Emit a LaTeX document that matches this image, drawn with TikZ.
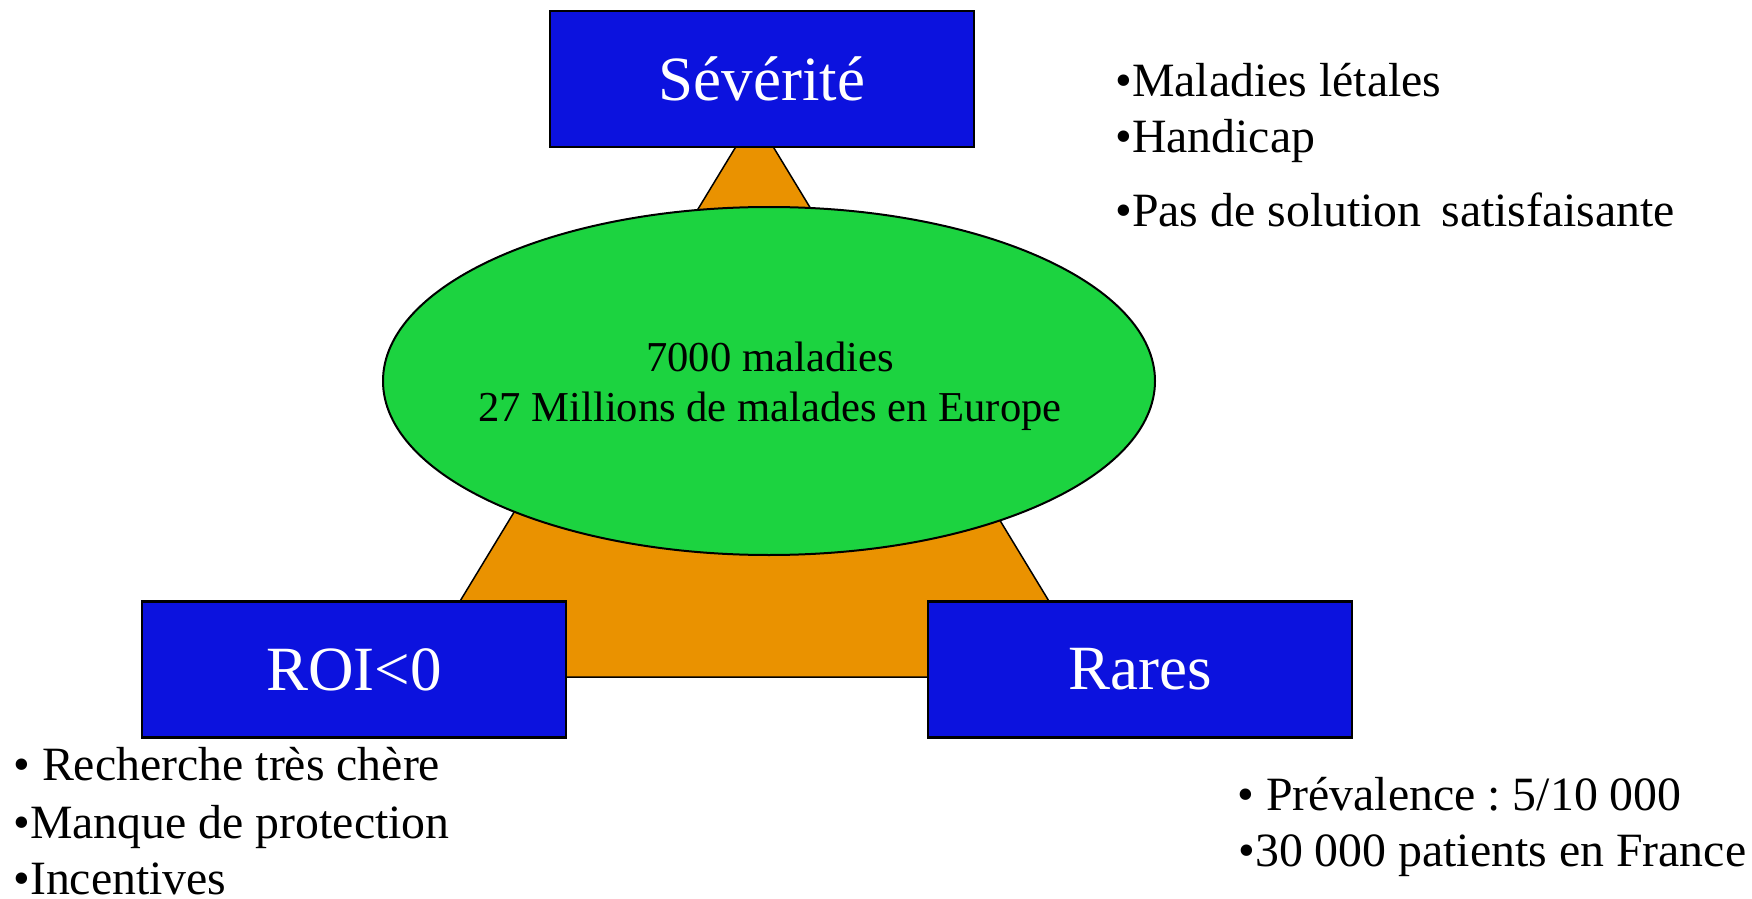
\documentclass[tikz,border=0pt]{standalone}
\usepackage{fontspec}
\setmainfont{Liberation Serif}
\usetikzlibrary{shapes.geometric}
\definecolor{boxblue}{RGB}{12,18,222}
\definecolor{triorange}{RGB}{234,146,0}
\definecolor{ellgreen}{RGB}{28,211,64}
\frenchspacing
\begin{document}
\begin{tikzpicture}[x=0.5pt,y=-0.5pt,
  bigbox/.style={draw=black, line width=1.3pt, fill=boxblue, text=white,
    minimum width=212pt, minimum height=68pt, inner sep=0pt, outer sep=0pt,
    font=\fontsize{31.5}{36}\selectfont},
  listtext/.style={anchor=base west, inner sep=0pt, font=\fontsize{23.9}{28}\selectfont},
  elltext/.style={anchor=base, inner sep=0pt, font=\fontsize{21.3}{26}\selectfont}]
\useasboundingbox (0,0) rectangle (1752,899);
% triangle
\coordinate (apex) at (754.5,116);
\coordinate (baseR) at (1095,677);
\coordinate (baseL) at (414,677);
\draw[fill=triorange, line width=0.75pt, line join=miter] (apex) -- (baseR) -- (baseL) -- cycle;
% ellipse
\node[ellipse, draw=black, fill=ellgreen, line width=1pt, minimum width=386pt,
  minimum height=174pt, inner sep=0pt] (ell) at (769,381) {};
\node[elltext] (e1) at (770,371.7) {7000 maladies};
\node[elltext] (e2) at (770,421.7) {27 Millions de malades en Europe};
% boxes
\node[bigbox] (sev) at (762,79) {Sévérité};
\node[bigbox] (roi) at (354,669.5) {ROI<0};
\node[bigbox] (rar) at (1140,669.5) {Rares};
% lists
\node[listtext] (t1) at (1115,96.7) {•Maladies létales};
\node[listtext] (t2) at (1115,153) {•Handicap};
\node[listtext] (t3) at (1115,226.7) {•Pas de solution\, satisfaisante};
\node[listtext] (l1) at (13,780) {• Recherche très chère};
\node[listtext] (l2) at (13,838) {•Manque de protection};
\node[listtext] (l3) at (13,894) {•Incentives};
\node[listtext] (r1) at (1237,810) {• Prévalence : 5/10 000};
\node[listtext] (r2) at (1238,866.7) {•30 000 patients en France};
\end{tikzpicture}
\end{document}
